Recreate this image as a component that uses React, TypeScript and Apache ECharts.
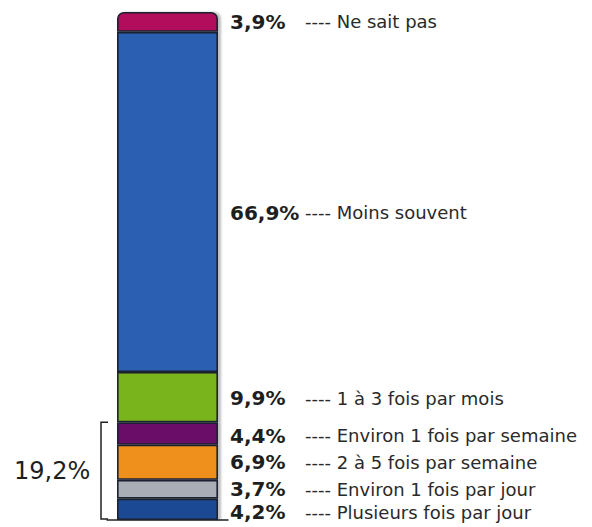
import React, { useEffect, useRef } from "react";
import * as echarts from "echarts";

// Bottom to top
const categories = [
  "Plusieurs fois par jour",
  "Environ 1 fois par jour",
  "2 à 5 fois par semaine",
  "Environ 1 fois par semaine",
  "1 à 3 fois par mois",
  "Moins souvent",
  "Ne sait pas",
];
const values = [4.2, 3.7, 6.9, 4.4, 9.9, 66.9, 3.9];
const colors = ["#1b4a93", "#a9adb6", "#f0901f", "#6a0a68", "#7ab41e", "#2c5fb1", "#b10f5b"];
const labelOffsets = [3, 0, 0, 2, 1, 11, 0];
const bracketCount = 4; // bottom four segments grouped by the bracket

const fmt = (v: number) => v.toFixed(1).replace(".", ",") + "%";

export default function App() {
  const ref = useRef<HTMLDivElement>(null);
  useEffect(() => {
    document.body.style.margin = "0";
    if (!ref.current) return;
    const chart = echarts.init(ref.current, null, { renderer: "svg" });
    const total = values.reduce((a, b) => a + b, 0);
    const series = values.map((v, i) => ({
      name: categories[i],
      type: "bar",
      stack: "all",
      barWidth: 101,
      data: [v],
      itemStyle: {
        color: colors[i],
        borderColor: "#1c2030",
        borderWidth: 1.6,
        borderRadius: i === values.length - 1 ? [6, 6, 0, 0] : 0,
        shadowColor: "rgba(0,0,0,0.25)",
        shadowOffsetX: 3,
        shadowBlur: 2,
      },
      label: {
        show: true,
        position: "right",
        distance: 12,
        offset: [0, labelOffsets[i]],
        formatter: `{p|${fmt(v)}}{d|---- ${categories[i]}}`,
        rich: {
          p: {
            fontFamily: "DejaVu Sans",
            fontWeight: "bold",
            fontSize: 20,
            color: "#1e1e1e",
            width: 75,
          },
          d: {
            fontFamily: "DejaVu Sans",
            fontSize: 18,
            color: "#2a2a2a",
          },
        },
      },
    }));
    chart.setOption({
      animation: false,
      backgroundColor: "#ffffff",
      grid: { left: 107, width: 121, top: 12, bottom: 7 },
      xAxis: {
        type: "category",
        data: [""],
        axisLine: { show: true, lineStyle: { color: "#222", width: 1.5 } },
        axisTick: { show: false },
        axisLabel: { show: false },
      },
      yAxis: {
        type: "value",
        min: 0,
        max: total,
        show: false,
        splitLine: { show: false },
      },
      series,
    });
    const sub = values.slice(0, bracketCount).reduce((a, b) => a + b, 0);
    const yTop = chart.convertToPixel({ yAxisIndex: 0 }, sub) as number;
    const yBot = chart.convertToPixel({ yAxisIndex: 0 }, 0) as number;
    const xR = 108;
    const xL = 101;
    chart.setOption({
      graphic: [
        {
          type: "polyline",
          shape: {
            points: [
              [xR, yTop],
              [xL, yTop],
              [xL, yBot - 1],
              [xR, yBot - 1],
            ],
          },
          style: { stroke: "#222", lineWidth: 1.5, fill: null },
        },
        {
          type: "text",
          x: 14,
          y: (yTop + yBot) / 2,
          style: {
            text: fmt(sub),
            fontFamily: "DejaVu Sans",
            fontSize: 24,
            fill: "#1e1e1e",
            verticalAlign: "middle",
            align: "left",
          },
        },
      ],
    });
    return () => chart.dispose();
  }, []);
  return <div ref={ref} style={{ width: 592, height: 527 }} />;
}
